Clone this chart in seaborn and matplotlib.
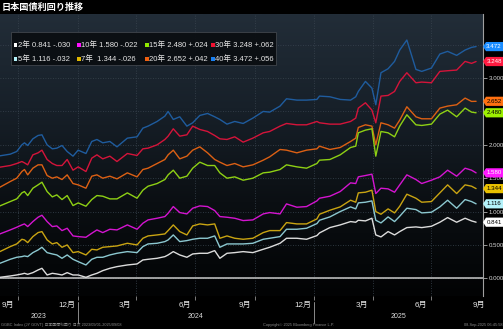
import numpy as np
import pandas as pd
import matplotlib
matplotlib.use("Agg")
import matplotlib.pyplot as plt
import matplotlib.dates as mdates
import matplotlib.transforms as mtransforms
from matplotlib.patches import Rectangle, Polygon
from matplotlib.lines import Line2D
from matplotlib.colors import LinearSegmentedColormap
import seaborn as sns

# ---------------- data ----------------
title = "日本国債利回り推移"

dates = [
    "2023-09-03", "2023-09-19", "2023-09-29", "2023-10-07", "2023-10-11", "2023-10-16", "2023-10-24",
    "2023-11-01", "2023-11-07", "2023-11-15", "2023-11-23", "2023-11-30", "2023-12-08", "2023-12-16",
    "2023-12-25", "2024-01-02", "2024-01-14", "2024-01-23", "2024-01-31", "2024-02-09", "2024-02-20",
    "2024-03-02", "2024-03-18", "2024-04-02", "2024-04-11", "2024-04-19", "2024-05-03", "2024-05-15",
    "2024-05-20", "2024-05-28", "2024-06-07", "2024-06-18", "2024-06-27", "2024-07-08", "2024-07-20",
    "2024-07-31", "2024-08-08", "2024-08-19", "2024-08-31", "2024-09-13", "2024-09-28", "2024-10-14",
    "2024-10-24", "2024-11-09", "2024-11-19", "2024-12-05", "2024-12-20", "2025-01-05",
    "2025-01-09", "2025-01-25", "2025-02-10", "2025-02-26", "2025-03-06", "2025-03-10", "2025-03-21",
    "2025-03-31", "2025-04-06", "2025-04-14", "2025-04-25", "2025-05-05", "2025-05-13", "2025-05-24",
    "2025-06-07", "2025-06-16", "2025-07-01", "2025-07-14", "2025-07-26", "2025-08-09", "2025-08-22",
    "2025-09-01", "2025-09-08",
]

y2 = [0.015, 0.035, 0.05, 0.065, 0.075, 0.06, 0.085, 0.125, 0.15, 0.05, 0.075, 0.065, 0.05, 0.085,
      0.05, 0.05, 0.015, 0.05, 0.075, 0.115, 0.15, 0.175, 0.20, 0.215, 0.275, 0.285, 0.30, 0.325,
      0.35, 0.40, 0.35, 0.315, 0.365, 0.375, 0.375, 0.415, 0.30, 0.375, 0.385, 0.40, 0.385, 0.435,
      0.465, 0.525, 0.60, 0.60, 0.585, 0.64,
      0.68, 0.76, 0.80, 0.85, 0.84, 0.87, 0.86, 0.90, 0.65, 0.62, 0.70, 0.65, 0.70, 0.76,
      0.77, 0.76, 0.78, 0.84, 0.91, 0.84, 0.90, 0.86, 0.841]
y5 = [0.225, 0.285, 0.315, 0.325, 0.335, 0.325, 0.385, 0.425, 0.465, 0.385, 0.365, 0.35, 0.30, 0.35,
      0.285, 0.25, 0.20, 0.285, 0.315, 0.315, 0.35, 0.375, 0.40, 0.385, 0.475, 0.515, 0.525, 0.55,
      0.575, 0.65, 0.55, 0.565, 0.585, 0.60, 0.60, 0.635, 0.465, 0.515, 0.515, 0.515, 0.525, 0.585,
      0.60, 0.625, 0.735, 0.735, 0.75, 0.82,
      0.87, 0.92, 1.00, 1.07, 1.04, 1.13, 1.14, 1.16, 0.87, 0.83, 0.92, 0.85, 0.93, 1.05,
      1.03, 0.98, 0.99, 1.07, 1.17, 1.05, 1.18, 1.15, 1.116]
y7 = [0.40, 0.475, 0.515, 0.585, 0.575, 0.535, 0.625, 0.685, 0.70, 0.575, 0.515, 0.535, 0.465, 0.50,
      0.385, 0.40, 0.35, 0.435, 0.425, 0.465, 0.475, 0.485, 0.525, 0.50, 0.60, 0.635, 0.65, 0.665,
      0.715, 0.80, 0.70, 0.65, 0.785, 0.815, 0.80, 0.815, 0.60, 0.635, 0.60, 0.585, 0.60, 0.685,
      0.715, 0.715, 0.835, 0.815, 0.815, 0.89,
      0.96, 1.02, 1.07, 1.17, 1.14, 1.28, 1.29, 1.32, 1.00, 0.96, 1.04, 0.98, 1.08, 1.26,
      1.20, 1.14, 1.15, 1.28, 1.40, 1.27, 1.40, 1.38, 1.344]
y10 = [0.665, 0.725, 0.765, 0.80, 0.815, 0.775, 0.85, 0.915, 0.945, 0.85, 0.775, 0.785, 0.715, 0.75,
       0.635, 0.625, 0.615, 0.675, 0.725, 0.685, 0.735, 0.725, 0.80, 0.735, 0.825, 0.875, 0.90, 0.925,
       0.975, 1.075, 0.985, 0.965, 1.05, 1.085, 1.075, 1.015, 0.925, 0.915, 0.90, 0.865, 0.875, 0.965,
       0.985, 0.965, 1.115, 1.065, 1.075, 1.16,
       1.20, 1.23, 1.30, 1.43, 1.42, 1.52, 1.54, 1.56, 1.27, 1.35, 1.34, 1.29, 1.40, 1.55,
       1.48, 1.42, 1.47, 1.52, 1.62, 1.53, 1.65, 1.62, 1.580]
y15 = [1.085, 1.15, 1.19, 1.28, 1.30, 1.24, 1.35, 1.40, 1.44, 1.30, 1.22, 1.25, 1.18, 1.24,
       1.09, 1.13, 1.08, 1.18, 1.24, 1.23, 1.19, 1.19, 1.28, 1.20, 1.32, 1.38, 1.42, 1.48,
       1.55, 1.62, 1.50, 1.53, 1.65, 1.74, 1.69, 1.69, 1.58, 1.50, 1.52, 1.47, 1.50, 1.58,
       1.59, 1.63, 1.70, 1.67, 1.65, 1.72,
       1.77, 1.78, 1.85, 1.96, 1.98, 2.18, 2.22, 2.24, 1.83, 2.20, 2.18, 2.12, 2.28, 2.45,
       2.30, 2.29, 2.31, 2.46, 2.52, 2.42, 2.55, 2.49, 2.480]
y20 = [1.365, 1.45, 1.50, 1.60, 1.63, 1.55, 1.65, 1.70, 1.70, 1.54, 1.50, 1.52, 1.48, 1.55,
       1.42, 1.40, 1.35, 1.53, 1.55, 1.50, 1.53, 1.49, 1.58, 1.52, 1.63, 1.65, 1.72, 1.78,
       1.85, 1.92, 1.79, 1.83, 1.92, 1.97, 1.88, 1.78, 1.74, 1.69, 1.72, 1.67, 1.70, 1.77,
       1.82, 1.93, 1.92, 1.88, 1.92, 1.94,
       1.98, 1.93, 1.96, 2.05, 2.10, 2.26, 2.30, 2.28, 2.00, 2.33, 2.30, 2.25, 2.37, 2.57,
       2.42, 2.39, 2.39, 2.55, 2.58, 2.60, 2.70, 2.65, 2.652]
y30 = [1.665, 1.69, 1.72, 1.75, 1.73, 1.70, 1.85, 1.88, 1.92, 1.78, 1.72, 1.69, 1.69, 1.78,
       1.62, 1.67, 1.60, 1.80, 1.85, 1.79, 1.83, 1.75, 1.87, 1.84, 1.94, 1.95, 2.00, 2.08,
       2.13, 2.24, 2.13, 2.15, 2.28, 2.23, 2.20, 2.14, 2.09, 2.08, 2.12, 2.04, 2.10, 2.18,
       2.20, 2.28, 2.32, 2.30, 2.30, 2.35,
       2.33, 2.31, 2.31, 2.35, 2.40, 2.55, 2.63, 2.52, 2.33, 2.73, 2.74, 2.80, 2.95, 3.08,
       2.93, 2.94, 2.93, 3.10, 3.11, 3.12, 3.25, 3.22, 3.248]
y40 = [1.835, 1.86, 1.90, 2.00, 2.03, 1.99, 2.09, 2.14, 2.15, 2.00, 1.94, 1.95, 1.99, 1.90,
       1.83, 1.92, 1.87, 2.05, 2.08, 2.03, 2.05, 1.97, 2.10, 2.12, 2.25, 2.28, 2.35, 2.43,
       2.50, 2.38, 2.42, 2.28, 2.33, 2.44, 2.47, 2.42, 2.38, 2.31, 2.35, 2.32, 2.40, 2.50,
       2.49, 2.58, 2.69, 2.67, 2.67, 2.68,
       2.73, 2.72, 2.68, 2.67, 2.72, 2.80, 2.95, 2.85, 2.60, 3.08, 3.14, 3.25, 3.42, 3.57,
       3.13, 3.10, 3.15, 3.36, 3.40, 3.34, 3.42, 3.46, 3.472]

tenors = ["2年", "5年", "7年", "10年", "15年", "20年", "30年", "40年"]
last_values = [0.841, 1.116, 1.344, 1.580, 2.480, 2.652, 3.248, 3.472]
changes = [-0.030, -0.032, -0.026, -0.022, 0.024, 0.042, 0.062, 0.056]

y_ticks = [0.0, 0.5, 1.0, 1.5, 2.0, 2.5, 3.0, 3.5]
y_tick_labels = ["0.000", "0.500", "1.000", "1.500", "2.000", "", "3.000", ""]
quarter_starts = ["2023-10-01", "2024-01-01", "2024-04-01", "2024-07-01",
                  "2024-10-01", "2025-01-01", "2025-04-01", "2025-07-01"]
month_labels = ["9月", "12月", "3月", "6月", "9月", "12月", "3月", "6月", "9月"]
month_label_dates = ["2023-09-15", "2023-12-15", "2024-03-15", "2024-06-15", "2024-09-15",
                     "2024-12-15", "2025-03-15", "2025-06-15", "2025-09-12"]
year_labels = ["2023", "2024", "2025"]
year_starts = ["2024-01-01", "2025-01-01"]

foot_left = "GGBC Index (JY GOVT) 日本国債利回り 日次 2023/09/01-2025/09/08"
foot_mid = "Copyright© 2025 Bloomberg Finance L.P."
foot_right = "08-Sep-2025 06:45:58"

# ---------------- style ----------------
line_colors = {"2年": "#dcdcdc", "5年": "#8cc8d0", "7年": "#c9a412", "10年": "#d414d0",
               "15年": "#8ed014", "20年": "#dc6014", "30年": "#d4143a", "40年": "#1f5c9e"}
tag_colors = {"2年": "#ffffff", "5年": "#b4f2fa", "7年": "#e8c000", "10年": "#ff18ff",
              "15年": "#9cf000", "20年": "#ff7010", "30年": "#ff1a40", "40年": "#1a8cff"}
tag_text = {"2年": "black", "5年": "black", "7年": "black", "10年": "white",
            "15年": "black", "20年": "black", "30年": "white", "40年": "white"}
legend_colors = {"2年": "#ffffff", "5年": "#b4f2fa", "7年": "#e0b800", "10年": "#ff10ff",
                 "15年": "#90e800", "20年": "#f06010", "30年": "#f01030", "40年": "#1a80f0"}

sns.set_theme(style="dark", rc={"axes.facecolor": "#000000", "figure.facecolor": "#000000"})
plt.rcParams["font.family"] = ["Liberation Sans", "Noto Sans CJK JP", "DejaVu Sans"]

W, H = 503, 329
fig = plt.figure(figsize=(W / 100, H / 100), dpi=100, facecolor="#000000")
ax_left, ax_right, ax_top, ax_bot = 0, 483, 14, 296
ax = fig.add_axes([ax_left / W, (H - ax_bot) / H, (ax_right - ax_left) / W, (ax_bot - ax_top) / H])

df = pd.DataFrame({"date": pd.to_datetime(dates), "2年": y2, "5年": y5, "7年": y7, "10年": y10,
                   "15年": y15, "20年": y20, "30年": y30, "40年": y40})
long = df.melt(id_vars="date", var_name="tenor", value_name="yield")

sns.lineplot(data=long, x="date", y="yield", hue="tenor", hue_order=tenors[::-1],
             palette=line_colors, linewidth=1.0, legend=False, ax=ax, sort=False, zorder=3)

# limits (pixel-matched)
oct1 = mdates.date2num(pd.Timestamp("2023-10-01"))
px_per_day = 0.647
xmin = oct1 - 18 / px_per_day
xmax = oct1 + (ax_right - 18) / px_per_day
ymin, ymax = -0.265, 3.96

# background gradient
cmap = LinearSegmentedColormap.from_list("bg", ["#020304", "#0b0f13", "#172029", "#222d38"])
grad = np.linspace(0, 1, 256).reshape(-1, 1)
ax.imshow(grad, extent=[0, 1, 0, 1], transform=ax.transAxes, aspect="auto",
          cmap=cmap, origin="lower", zorder=0)
ax.set_xlim(xmin, xmax)
ax.set_ylim(ymin, ymax)
ax.set_autoscale_on(False)

ax.axhline(0, color="#c8c8c8", lw=1.1, zorder=2)

# grid
qnums = [mdates.date2num(pd.Timestamp(d)) for d in quarter_starts]
ax.set_xticks(qnums)
ax.set_xticklabels([""] * len(qnums))
ax.set_yticks(y_ticks)
ax.set_yticklabels(y_tick_labels)
ax.grid(True, which="major", color="#3a4550", linestyle=(0, (1, 2)), lw=0.6)
ax.yaxis.tick_right()
ax.tick_params(axis="y", which="major", length=3, width=0.6, color="#b0b0b0",
               labelsize=4.4, labelcolor="#d8d8d8", pad=1, right=True, left=False)
ax.tick_params(axis="x", which="major", length=3, width=0.6, color="#909090", bottom=True)

mnums = [mdates.date2num(pd.Timestamp(d)) for d in month_label_dates]
ax.set_xticks(mnums, minor=True)
ax.set_xticklabels(month_labels, minor=True)
ax.tick_params(axis="x", which="minor", length=0, labelsize=5.8, labelcolor="#e6e6e6", pad=4)
ax.set_xlabel("")
ax.set_ylabel("")
for side in ["top", "left", "bottom"]:
    ax.spines[side].set_visible(False)
ax.spines["right"].set_visible(True)
ax.spines["right"].set_color("#a0a0a0")
ax.spines["right"].set_linewidth(0.8)

# year separators & labels
blend = mtransforms.blended_transform_factory(ax.transData, ax.transAxes)
ynums = [mdates.date2num(pd.Timestamp(d)) for d in year_starts]
for yn in ynums:
    ax.add_line(Line2D([yn, yn], [-6 / 282, -27 / 282], transform=blend, color="#8a8a8a",
                       lw=0.7, clip_on=False))
bounds = [xmin] + ynums + [xmax]
for i, lab in enumerate(year_labels):
    ax.text((bounds[i] + bounds[i + 1]) / 2, -20 / 282, lab, transform=blend, ha="center",
            va="center", fontsize=5.0, color="#dcdcdc")

# right-side value tags
fig.canvas.draw()
inv = fig.transFigure.inverted()
for t, v in zip(tenors, last_values):
    yc = inv.transform(ax.transData.transform((xmax, v)))[1] * H
    pts = [(483, yc), (486, yc + 4.6), (503, yc + 4.6), (503, yc - 4.6), (486, yc - 4.6)]
    poly = Polygon([(x / W, y / H) for x, y in pts], closed=True, transform=fig.transFigure,
                   facecolor=tag_colors[t], edgecolor="none", zorder=10)
    fig.patches.append(poly)
    fig.text(494 / W, yc / H, f"{v:.3f}", ha="center", va="center", fontsize=4.4,
             color=tag_text[t], zorder=11)

# legend box
fig.patches.append(Rectangle((11 / W, (H - 65) / H), 265 / W, 33 / H, transform=fig.transFigure,
                             facecolor="#0a0d11", edgecolor="#44494f", lw=0.6, alpha=0.92, zorder=5))
order = [["2年", "10年", "15年", "30年"], ["5年", "7年", "20年", "40年"]]
col_x = [15.5, 79, 147, 213]
row_y = [45, 59]


def fmt_chg(c):
    s = f"{c:+.3f}"
    return s.replace("+0.", "+.").replace("-0.", "-.")


for r, row in enumerate(order):
    for c, t in enumerate(row):
        i = tenors.index(t)
        yy = (H - row_y[r]) / H
        fig.patches.append(Rectangle(((col_x[c] - 1.8) / W, yy - 1.8 / H), 3.6 / W, 3.6 / H,
                                     transform=fig.transFigure, facecolor=legend_colors[t],
                                     edgecolor="none", zorder=6))
        sep = "  " if t == "7年" else " "
        fig.text((col_x[c] + 2.4) / W, yy, f"{t}{sep}{last_values[i]:.3f} {fmt_chg(changes[i])}",
                 ha="left", va="center", fontsize=5.5, color="#e6e6e6", zorder=7)

# title & footnotes
fig.text(2 / W, (H - 7.5) / H, title, ha="left", va="center", fontsize=6.6, fontweight="bold",
         color="#ffffff")
fig.text(1 / W, (H - 325) / H, foot_left, ha="left", va="center", fontsize=2.8, color="#8c8c8c")
fig.text(263 / W, (H - 325) / H, foot_mid, ha="left", va="center", fontsize=2.8, color="#8c8c8c")
fig.text(502 / W, (H - 325) / H, foot_right, ha="right", va="center", fontsize=2.8, color="#8c8c8c")

fig.savefig("out.png", dpi=100, facecolor="#000000")
